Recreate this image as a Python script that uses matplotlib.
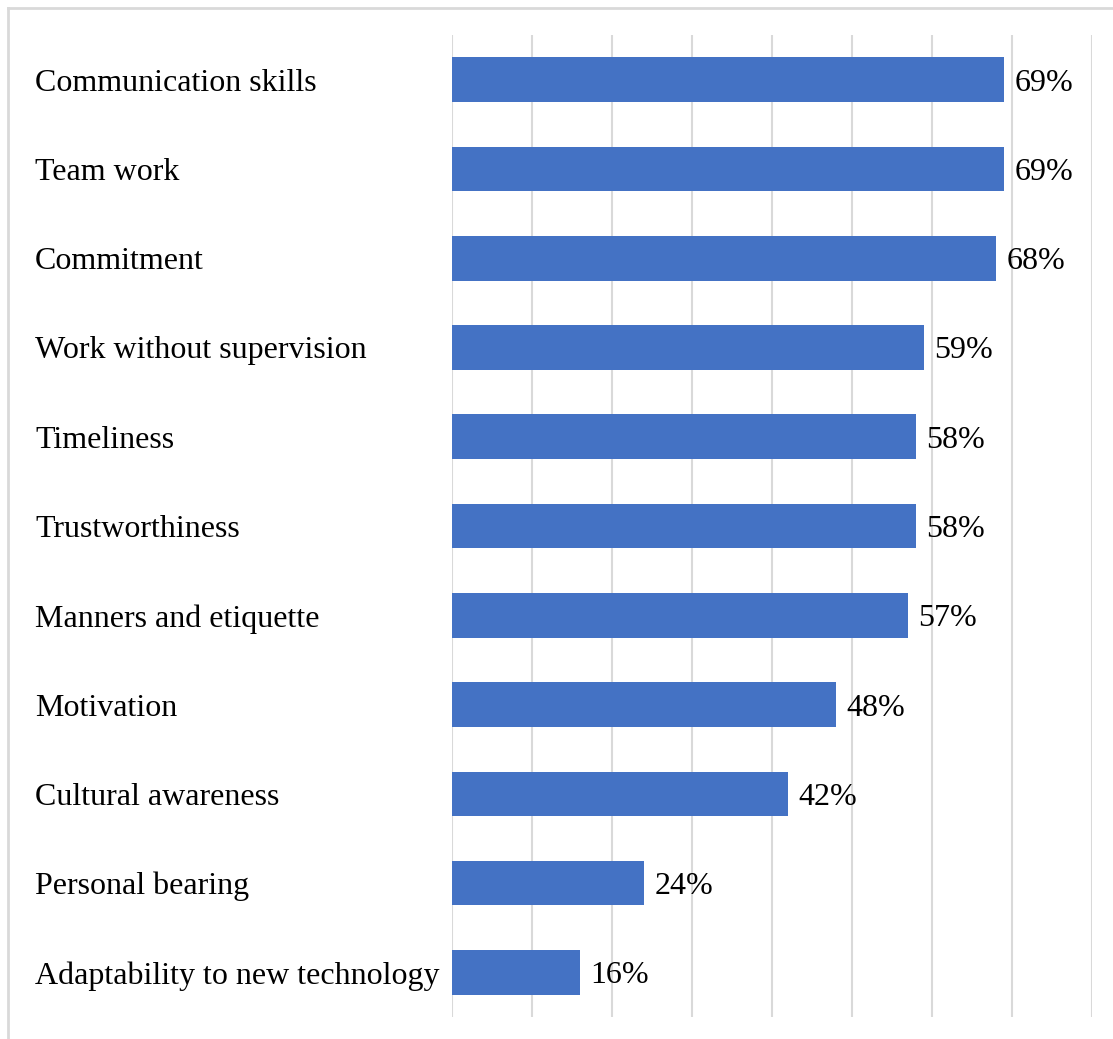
import matplotlib.pyplot as plt

plt.rcParams['font.family'] = ['Liberation Serif', 'DejaVu Serif']

skills = ['Communication skills', 'Team work', 'Commitment', 'Work without supervision',
          'Timeliness', 'Trustworthiness', 'Manners and etiquette', 'Motivation',
          'Cultural awareness', 'Personal bearing', 'Adaptability to new technology']
percent = [69, 69, 68, 59, 58, 58, 57, 48, 42, 24, 16]

fig = plt.figure(figsize=(11.13, 10.39), dpi=100)
ax = fig.add_axes([452 / 1113, 22 / 1039, 640 / 1113, 982 / 1039])

y = list(range(len(skills)))
ax.barh(y, percent, height=0.5, color='#4472C4', zorder=3)
ax.set_ylim(len(skills) - 0.5, -0.5)
ax.set_xlim(0, 80)

for yi, v in zip(y, percent):
    ax.text(v + 1.3, yi, f'{v}%', va='center_baseline', ha='left', fontsize=23, color='black')

# category names sit left-aligned near the frame edge
for yi, name in zip(y, skills):
    ax.text(35 / 1113, ax.transData.transform((0, yi))[1] / fig.dpi / fig.get_figheight(),
            name, transform=fig.transFigure, va='center_baseline', ha='left', fontsize=23)

ax.set_xticks(range(0, 81, 10))
ax.grid(axis='x', color='#D9D9D9', linewidth=1.5, zorder=0)
ax.tick_params(left=False, bottom=False, labelleft=False, labelbottom=False)
for s in ax.spines.values():
    s.set_visible(False)

# outer chart frame (top and left edges)
fig.add_artist(plt.Line2D([8 / 1113, 1], [1 - 8 / 1039, 1 - 8 / 1039],
                          transform=fig.transFigure, color='#D9D9D9', linewidth=2))
fig.add_artist(plt.Line2D([8 / 1113, 8 / 1113], [0, 1 - 8 / 1039],
                          transform=fig.transFigure, color='#D9D9D9', linewidth=2))

fig.savefig('out.png', dpi=100)
